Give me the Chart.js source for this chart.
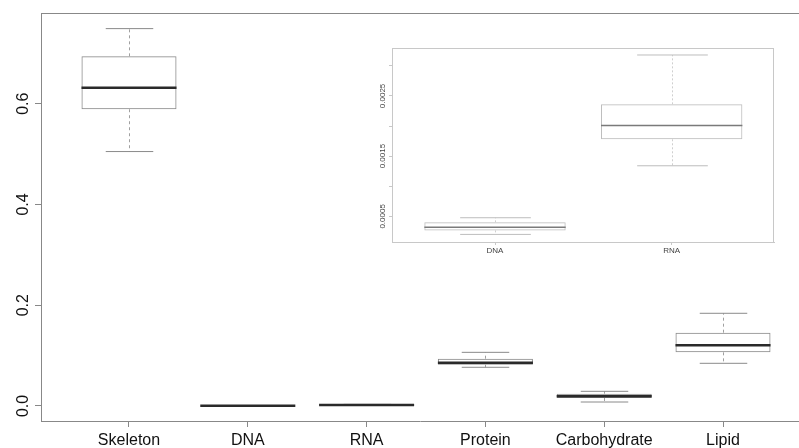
<!DOCTYPE html>
<html>
<head>
    <title>Boxplot</title>
    <style>
        body {
            margin: 0;
            background-color: #fff;
        }

        .wrap {
            position: relative;
            width: 799px;
            height: 448px;
        }

        #mainChart {
            position: absolute;
            left: 0;
            top: 0;
        }

        #insetChart {
            position: absolute;
            left: 350px;
            top: 40px;
        }
    </style>
</head>
<body>
<div class="wrap">
    <canvas id="mainChart" width="799" height="448"></canvas>
    <canvas id="insetChart" width="440" height="230"></canvas>
</div>

<script src="https://cdn.jsdelivr.net/npm/chart.js@4.4.1/dist/chart.umd.min.js"></script>
<script>
    // values
    const categories = ['Skeleton', 'DNA', 'RNA', 'Protein', 'Carbohydrate', 'Lipid'];
    const whiskerLow  = [0.505, 0.00020, 0.00134, 0.0768, 0.0079, 0.0847];
    const q1          = [0.589, 0.000267, 0.00178, 0.0820, 0.0159, 0.1065];
    const medians     = [0.6315, 0.000317, 0.00201, 0.0860, 0.0192, 0.1204];
    const q3          = [0.694, 0.00040, 0.00236, 0.0939, 0.0244, 0.1455];
    const whiskerHigh = [0.749, 0.000477, 0.00318, 0.1065, 0.0291, 0.184];
    const yTicks = [0, 0.2, 0.4, 0.6];
    const yTickLabels = ['0.0', '0.2', '0.4', '0.6'];

    const insetIndices = [1, 2];
    const insetTicks = [0.0005, 0.001, 0.0015, 0.002, 0.0025, 0.003];
    const insetTickLabels = ['0.0005', '', '0.0015', '', '0.0025', ''];

    // whiskers, caps and medians, placed with the chart's own scales
    const boxplotPlugin = {
        id: 'boxplot',
        afterDatasetsDraw(chart, args, opts) {
            const ctx = chart.ctx;
            const y = chart.scales.y;
            const meta = chart.getDatasetMeta(0);
            ctx.save();
            meta.data.forEach((bar, i) => {
                const k = opts.indices[i];
                const cx = Math.round(bar.x) + 0.5;
                const half = bar.width / 2;
                const yLow = y.getPixelForValue(whiskerLow[k]);
                const yQ1 = y.getPixelForValue(q1[k]);
                const yQ3 = y.getPixelForValue(q3[k]);
                const yHigh = y.getPixelForValue(whiskerHigh[k]);
                const yMed = y.getPixelForValue(medians[k]);

                ctx.lineWidth = 1;
                ctx.strokeStyle = opts.whiskerColor;
                ctx.setLineDash(opts.dash);
                ctx.beginPath();
                ctx.moveTo(cx, yQ3);
                ctx.lineTo(cx, yHigh);
                ctx.moveTo(cx, yQ1);
                ctx.lineTo(cx, yLow);
                ctx.stroke();

                ctx.setLineDash([]);
                ctx.strokeStyle = opts.capColor;
                ctx.beginPath();
                ctx.moveTo(cx - half / 2, yHigh);
                ctx.lineTo(cx + half / 2, yHigh);
                ctx.moveTo(cx - half / 2, yLow);
                ctx.lineTo(cx + half / 2, yLow);
                ctx.stroke();

                ctx.strokeStyle = opts.medianColor;
                ctx.lineWidth = opts.medianWidth;
                ctx.beginPath();
                ctx.moveTo(bar.x - half, yMed);
                ctx.lineTo(bar.x + half, yMed);
                ctx.stroke();
            });
            ctx.restore();
        }
    };

    // R-style frame and rotated y tick labels
    const framePlugin = {
        id: 'frame',
        afterDraw(chart, args, opts) {
            const ctx = chart.ctx;
            const a = chart.chartArea;
            const y = chart.scales.y;
            ctx.save();
            ctx.strokeStyle = opts.color;
            ctx.lineWidth = 1;
            ctx.beginPath();
            ctx.moveTo(a.left, Math.round(a.top) + 0.5);
            ctx.lineTo(a.right, Math.round(a.top) + 0.5);
            if (opts.right) {
                ctx.moveTo(Math.round(a.right) - 0.5, a.top);
                ctx.lineTo(Math.round(a.right) - 0.5, a.bottom);
            }
            ctx.stroke();

            ctx.fillStyle = opts.labelColor;
            ctx.font = opts.font;
            ctx.textAlign = 'center';
            ctx.textBaseline = 'alphabetic';
            opts.ticks.forEach((v, i) => {
                const label = opts.labels[i];
                if (!label) return;
                ctx.save();
                ctx.translate(y.left + y.width - opts.offset, y.getPixelForValue(v));
                ctx.rotate(-Math.PI / 2);
                ctx.fillText(label, 0, 0);
                ctx.restore();
            });
            ctx.restore();
        }
    };

    function makeBoxChart(canvasId, idx, cfg) {
        return new Chart(document.getElementById(canvasId), {
            type: 'bar',
            data: {
                datasets: [{
                    data: idx.map((k, i) => ({x: i + 1, y: [q1[k], q3[k]]})),
                    backgroundColor: 'rgba(255,255,255,0)',
                    borderColor: cfg.boxColor,
                    borderWidth: 1,
                    borderSkipped: false,
                    barPercentage: 0.8,
                    categoryPercentage: 1
                }]
            },
            options: {
                responsive: false,
                animation: false,
                layout: {padding: cfg.padding},
                plugins: {
                    legend: {display: false},
                    tooltip: {enabled: false},
                    boxplot: {
                        indices: idx,
                        whiskerColor: cfg.whiskerColor,
                        capColor: cfg.boxColor,
                        medianColor: cfg.medianColor,
                        medianWidth: cfg.medianWidth,
                        dash: cfg.dash
                    },
                    frame: {
                        color: cfg.frameColor,
                        right: cfg.frameRight,
                        labelColor: cfg.labelColor,
                        font: cfg.yFont,
                        offset: cfg.yLabelOffset,
                        ticks: cfg.yTicks,
                        labels: cfg.yLabels
                    }
                },
                scales: {
                    x: {
                        type: 'linear',
                        offset: false,
                        min: cfg.xMin,
                        max: cfg.xMax,
                        afterBuildTicks: s => {
                            s.ticks = idx.map((k, i) => ({value: i + 1}));
                        },
                        afterFit: s => {
                            s.height = cfg.xHeight;
                        },
                        grid: {
                            offset: false,
                            drawOnChartArea: false,
                            drawTicks: true,
                            tickLength: cfg.tickLength,
                            color: cfg.frameColor
                        },
                        border: {display: true, color: cfg.frameColor},
                        ticks: {
                            autoSkip: false,
                            maxRotation: 0,
                            padding: cfg.xPadding,
                            color: cfg.labelColor,
                            font: {family: 'Liberation Sans, Arial, sans-serif', size: cfg.xFontSize},
                            callback: (v, i) => categories[idx[i]]
                        }
                    },
                    y: {
                        min: cfg.yMin,
                        max: cfg.yMax,
                        afterBuildTicks: s => {
                            s.ticks = cfg.yTicks.map(v => ({value: v}));
                        },
                        afterFit: s => {
                            s.width = cfg.yWidth;
                        },
                        grid: {
                            drawOnChartArea: false,
                            drawTicks: true,
                            tickLength: cfg.tickLength,
                            color: cfg.frameColor
                        },
                        border: {display: true, color: cfg.frameColor},
                        ticks: {display: false}
                    }
                }
            },
            plugins: [boxplotPlugin, framePlugin]
        });
    }

    document.addEventListener('DOMContentLoaded', function () {
        makeBoxChart('mainChart', [0, 1, 2, 3, 4, 5], {
            padding: {top: 13, left: 0, right: 0, bottom: 0},
            xMin: 0.2593, xMax: 6.6397,
            yMin: -0.0298, yMax: 0.78,
            yTicks: yTicks, yLabels: yTickLabels,
            xHeight: 27, yWidth: 41,
            tickLength: 6, xPadding: 4, xFontSize: 16,
            yFont: '16px "Liberation Sans", Arial, sans-serif',
            yLabelOffset: 13.5,
            boxColor: '#8a8a8a', whiskerColor: '#a0a0a0',
            medianColor: '#2a2a2a', medianWidth: 2.5,
            frameColor: '#888', frameRight: false,
            labelColor: '#111', dash: [3, 3]
        });

        makeBoxChart('insetChart', insetIndices, {
            padding: {top: 8, left: 0, right: 16, bottom: 0},
            xMin: 0.417, xMax: 2.579,
            yMin: 0.000074, yMax: 0.003296,
            yTicks: insetTicks, yLabels: insetTickLabels,
            xHeight: 28, yWidth: 42,
            tickLength: 3, xPadding: 1, xFontSize: 8,
            yFont: '8px "Liberation Sans", Arial, sans-serif',
            yLabelOffset: 7.4,
            boxColor: '#bdbdbd', whiskerColor: '#cfcfcf',
            medianColor: '#7a7a7a', medianWidth: 1.5,
            frameColor: '#c8c8c8', frameRight: true,
            labelColor: '#444', dash: [2, 2]
        });
    });
</script>
</body>
</html>
